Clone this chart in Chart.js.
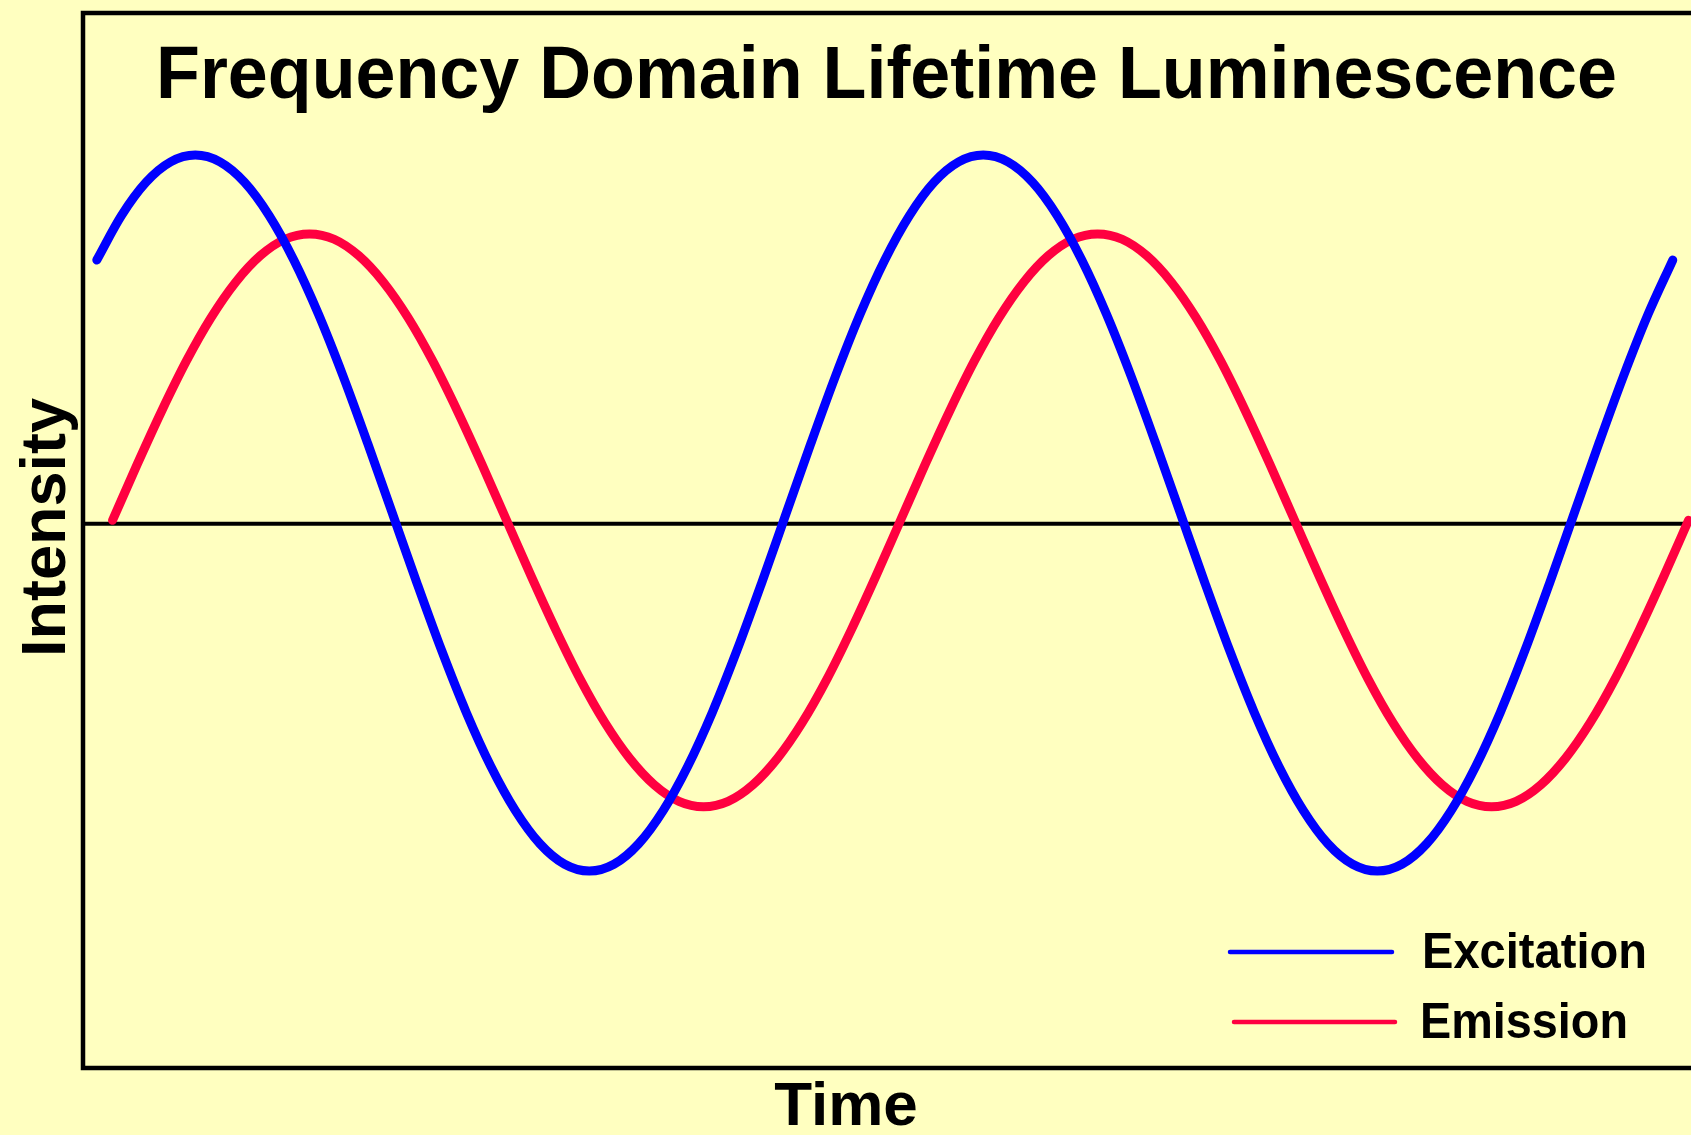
<!DOCTYPE html>
<html>
<head>
<meta charset="utf-8">
<script src="https://cdn.jsdelivr.net/npm/chart.js@4/dist/chart.umd.min.js"></script>
<style>
  html, body { margin: 0; padding: 0; background: #FFFFC0; }
  canvas { display: block; }
</style>
</head>
<body>
<canvas id="c" width="1691" height="1135"></canvas>
<script>
// Title / labels
const chartTitle = "Frequency Domain Lifetime Luminescence";
const xAxisTitle = "Time";
const yAxisTitle = "Intensity";
const seriesNames = ["Excitation", "Emission"];

// Time positions (arbitrary units) and intensities
const excitationTime = [0.15,0.4,0.65,0.9,1.15,1.4,1.65,1.9,2.15,2.4,2.65,2.9,3.15,3.4,3.65,3.9,4.15,4.4,4.65,4.9,5.15,5.4,5.65,5.9,6.15,6.4,6.65,6.9,7.15,7.4,7.65,7.9,8.15,8.4,8.65,8.9,9.15,9.4,9.65,9.9,10.15,10.4,10.65,10.9,11.15,11.4,11.65,11.9,12.15,12.4,12.65,12.9,13.15,13.4,13.65,13.9,14.15,14.4,14.65,14.9,15.15,15.4,15.65,15.9,16.15];
const excitationValues = [0.737,0.861,0.954,1.011,1.03,1.011,0.954,0.861,0.737,0.586,0.413,0.225,0.03,-0.165,-0.353,-0.526,-0.677,-0.801,-0.894,-0.951,-0.97,-0.951,-0.894,-0.801,-0.677,-0.526,-0.353,-0.165,0.03,0.225,0.413,0.586,0.737,0.861,0.954,1.011,1.03,1.011,0.954,0.861,0.737,0.586,0.413,0.225,0.03,-0.165,-0.353,-0.526,-0.677,-0.801,-0.894,-0.951,-0.97,-0.951,-0.894,-0.801,-0.677,-0.526,-0.353,-0.165,0.03,0.225,0.413,0.586,0.737];

const emissionTime = [0.31,0.56,0.81,1.06,1.31,1.56,1.81,2.06,2.31,2.56,2.81,3.06,3.31,3.56,3.81,4.06,4.31,4.56,4.81,5.06,5.31,5.56,5.81,6.06,6.31,6.56,6.81,7.06,7.31,7.56,7.81,8.06,8.31,8.56,8.81,9.06,9.31,9.56,9.81,10.06,10.31,10.56,10.81,11.06,11.31,11.56,11.81,12.06,12.31,12.56,12.81,13.06,13.31,13.56,13.81,14.06,14.31,14.56,14.81,15.06,15.31,15.56,15.81,16.06,16.31];
const emissionValues = [0.01,0.166,0.316,0.455,0.576,0.675,0.749,0.795,0.81,0.795,0.749,0.675,0.576,0.455,0.316,0.166,0.01,-0.146,-0.296,-0.435,-0.556,-0.655,-0.729,-0.775,-0.79,-0.775,-0.729,-0.655,-0.556,-0.435,-0.296,-0.146,0.01,0.166,0.316,0.455,0.576,0.675,0.749,0.795,0.81,0.795,0.749,0.675,0.576,0.455,0.316,0.166,0.01,-0.146,-0.296,-0.435,-0.556,-0.655,-0.729,-0.775,-0.79,-0.775,-0.729,-0.655,-0.556,-0.435,-0.296,-0.146,0.01];

const BG = '#FFFFC0';
const BLUE = '#0000FF';
const RED = '#FF0040';

function pairs(xs, ys) { return xs.map((x, i) => ({x: x, y: ys[i]})); }

const decor = {
  id: 'decor',
  beforeDraw(chart) {
    const ctx = chart.ctx;
    ctx.save();
    ctx.fillStyle = BG;
    ctx.fillRect(0, 0, chart.width, chart.height);
    ctx.restore();
  },
  beforeDatasetsDraw(chart) {
    const ctx = chart.ctx;
    const a = chart.chartArea;
    const y0 = chart.scales.y.getPixelForValue(0);
    ctx.save();
    // zero line
    ctx.strokeStyle = '#000';
    ctx.lineWidth = 4;
    ctx.beginPath();
    ctx.moveTo(a.left, y0);
    ctx.lineTo(chart.width, y0);
    ctx.stroke();
    // frame (left, top, bottom)
    ctx.lineWidth = 4.5;
    ctx.lineJoin = 'miter';
    ctx.beginPath();
    ctx.moveTo(chart.width + 5, a.top);
    ctx.lineTo(a.left, a.top);
    ctx.lineTo(a.left, a.bottom);
    ctx.lineTo(chart.width + 5, a.bottom);
    ctx.stroke();
    // title
    ctx.fillStyle = '#000';
    ctx.textBaseline = 'alphabetic';
    ctx.textAlign = 'left';
    ctx.font = 'bold 74px "Liberation Sans", Arial, sans-serif';
    ctx.fillText(chartTitle, 156, 98, 1461);
    // x title
    ctx.font = 'bold 62px "Liberation Sans", Arial, sans-serif';
    ctx.textAlign = 'center';
    ctx.fillText(xAxisTitle, 846, 1125);
    // y title
    ctx.save();
    ctx.translate(65, 657);
    ctx.rotate(-Math.PI / 2);
    ctx.textAlign = 'left';
    ctx.font = 'bold 63px "Liberation Sans", Arial, sans-serif';
    ctx.fillText(yAxisTitle, 0, 0);
    ctx.restore();
    ctx.restore();
  },
  afterDatasetsDraw(chart) {
    const ctx = chart.ctx;
    ctx.save();
    const items = [
      {x1: 1230, x2: 1392, y: 952, tx: 1422, ty: 968, w: 225},
      {x1: 1234, x2: 1395, y: 1022, tx: 1420, ty: 1038, w: 208}
    ];
    chart.data.datasets.forEach((ds, i) => {
      const it = items[i];
      ctx.strokeStyle = ds.borderColor;
      ctx.lineWidth = 4.5;
      ctx.lineCap = 'round';
      ctx.beginPath();
      ctx.moveTo(it.x1, it.y);
      ctx.lineTo(it.x2, it.y);
      ctx.stroke();
      ctx.fillStyle = '#000';
      ctx.font = 'bold 50px "Liberation Sans", Arial, sans-serif';
      ctx.textAlign = 'left';
      ctx.textBaseline = 'alphabetic';
      ctx.fillText(ds.label, it.tx, it.ty, it.w);
    });
    ctx.restore();
  }
};

new Chart(document.getElementById('c'), {
  type: 'line',
  data: {
    datasets: [
      {
        label: seriesNames[0],
        data: pairs(excitationTime, excitationValues),
        borderColor: BLUE,
        borderWidth: 9,
        borderCapStyle: 'round',
        borderJoinStyle: 'round',
        pointRadius: 0,
        cubicInterpolationMode: 'monotone',
        fill: false
      },
      {
        label: seriesNames[1],
        data: pairs(emissionTime, emissionValues),
        borderColor: RED,
        borderWidth: 9,
        borderCapStyle: 'round',
        borderJoinStyle: 'round',
        pointRadius: 0,
        cubicInterpolationMode: 'monotone',
        fill: false
      }
    ]
  },
  options: {
    responsive: false,
    devicePixelRatio: 1,
    animation: false,
    layout: { padding: { left: 83, top: 13, right: 0, bottom: 67 } },
    plugins: { legend: { display: false }, tooltip: { enabled: false }, title: { display: false } },
    scales: {
      x: { type: 'linear', min: 0.01, max: 16.335, display: false },
      y: { type: 'linear', min: -1.52, max: 1.427, display: false }
    }
  },
  plugins: [decor]
});
</script>
</body>
</html>
